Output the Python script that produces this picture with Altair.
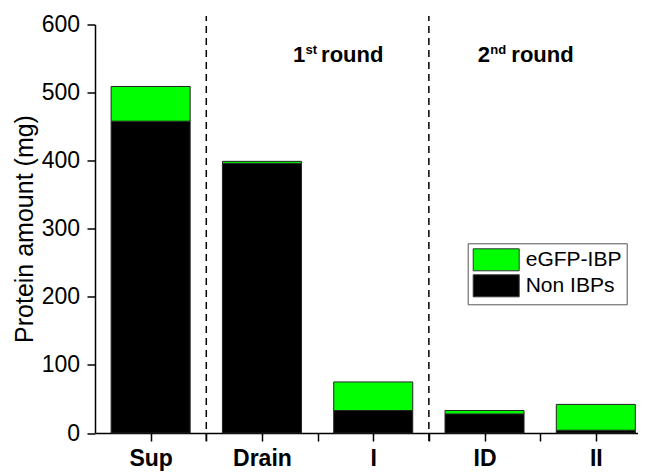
import json
import altair as alt
import pandas as pd

# ---- data ----
categories = ["Sup", "Drain", "I", "ID", "II"]
positions = [1, 2, 3, 4, 5]
non_ibps = [458, 396, 33, 28, 4]
egfp_ibp = [51, 3, 42, 5, 38]
series_names = ["eGFP-IBP", "Non IBPs"]
series_colors = ["#00ff00", "#000000"]
divider_positions = [1.5, 3.5]
y_tick_values = list(range(0, 601, 50))
x_tick_values = [1, 1.5, 2, 2.5, 3, 3.5, 4, 4.5, 5]
round_numbers = ["1", "2"]
round_suffixes = ["st", "nd"]
round_words = ["round", "round"]
round_x = [2.28, 3.94]
round_y = [545, 545]
Y_TITLE = "Protein amount (mg)"

FONT = "Liberation Sans"

rows = []
for c, p, n, g in zip(categories, positions, non_ibps, egfp_ibp):
    rows.append({"cat": c, "pos": p, "series": "Non IBPs", "lo": 0, "hi": n})
    rows.append({"cat": c, "pos": p, "series": "eGFP-IBP", "lo": n, "hi": n + g})
bars_df = pd.DataFrame(rows)

xs = alt.Scale(domain=[0.5, 5.379], nice=False, zero=False)
ys = alt.Scale(domain=[0, 600], nice=False)

x_label_expr = "datum.value % 1 === 0 ? " + json.dumps(categories) + "[datum.value - 1] : ''"
x_axis = alt.Axis(
    values=x_tick_values, labelExpr=x_label_expr, title=None,
    labelFont=FONT, labelFontSize=23, labelFontWeight="bold",
    tickSize=8, labelPadding=6, labelFlush=False, labelOverlap=False,
)
y_axis = alt.Axis(
    values=y_tick_values,
    labelExpr="datum.value % 100 === 0 ? datum.label : ''",
    tickSize={"condition": {"test": "datum.value % 100 === 0", "value": 8}, "value": 4},
    labelFont=FONT, labelFontSize=23, labelPadding=7.5,
    title=Y_TITLE, titleFont=FONT, titleFontSize=25,
    titleFontWeight="normal", titleBaseline="alphabetic", titleX=-63, titleY=204,
    labelOverlap=False, labelFlush=False,
)

# rectangular swatch: unit height 1 (=> sqrt(size)=22 px tall), wider than tall
legend = alt.Legend(
    title=None, orient="none", legendX=372.7, legendY=218.8,
    symbolType="M-2.09,-1H2.09V1H-2.09Z", symbolSize=484,
    symbolStrokeColor="#333333", symbolStrokeWidth=1, symbolOffset=12,
    labelFont=FONT, labelFontSize=21, labelColor="black", labelOffset=18,
    strokeColor="#555555", fillColor="white", padding=5, rowPadding=-1,
)

bars = alt.Chart(bars_df).transform_calculate(
    x0="datum.pos - 0.355", x1="datum.pos + 0.355"
).mark_bar(stroke="#222222", strokeWidth=1).encode(
    x=alt.X("x0:Q", scale=xs, axis=x_axis, title=None),
    x2="x1:Q",
    y=alt.Y("lo:Q", scale=ys, axis=y_axis, title=Y_TITLE),
    y2="hi:Q",
    color=alt.Color("series:N", scale=alt.Scale(domain=series_names, range=series_colors),
                    legend=legend),
)

dividers = alt.Chart(pd.DataFrame({"x": divider_positions})).mark_rule(
    color="black", strokeWidth=1.5, strokeDash=[7, 5], yOffset=8, y2Offset=-8.5
).encode(
    x=alt.X("x:Q", scale=xs, title=None),
    y=alt.datum(0),
    y2=alt.datum(600),
)

ann_df = pd.DataFrame({
    "x": round_x, "y": round_y, "num": round_numbers,
    "suf": round_suffixes, "word": round_words,
})

def ann_layer(field, size, dx, dy, df):
    return alt.Chart(df).mark_text(
        font=FONT, fontSize=size, fontWeight="bold", align="left",
        baseline="alphabetic", dx=dx, dy=dy, color="black"
    ).encode(
        x=alt.X("x:Q", scale=xs, title=None),
        y=alt.Y("y:Q", scale=ys, title=Y_TITLE),
        text=f"{field}:N",
    )

ann_layers = [ann_layer("num", 22, 0, 0, ann_df), ann_layer("suf", 13, 12.5, -8.4, ann_df)]
ann_layers.append(ann_layer("word", 22, 28, 0, ann_df.iloc[[0]]))
ann_layers.append(ann_layer("word", 22, 33.5, 0, ann_df.iloc[[1]]))

chart = alt.layer(bars, dividers, *ann_layers).properties(
    width=543, height=408.5,
    autosize=alt.AutoSizeParams(type="none"),
    padding={"left": 87, "top": 16.5, "right": 0, "bottom": 40},
).configure_axis(
    domainColor="black", domainWidth=1.5, tickColor="black", tickWidth=1.5,
    labelColor="black", titleColor="black", grid=False,
).configure_view(stroke=None)

chart.save("out.html", embed_options={"renderer": "svg", "actions": False})
